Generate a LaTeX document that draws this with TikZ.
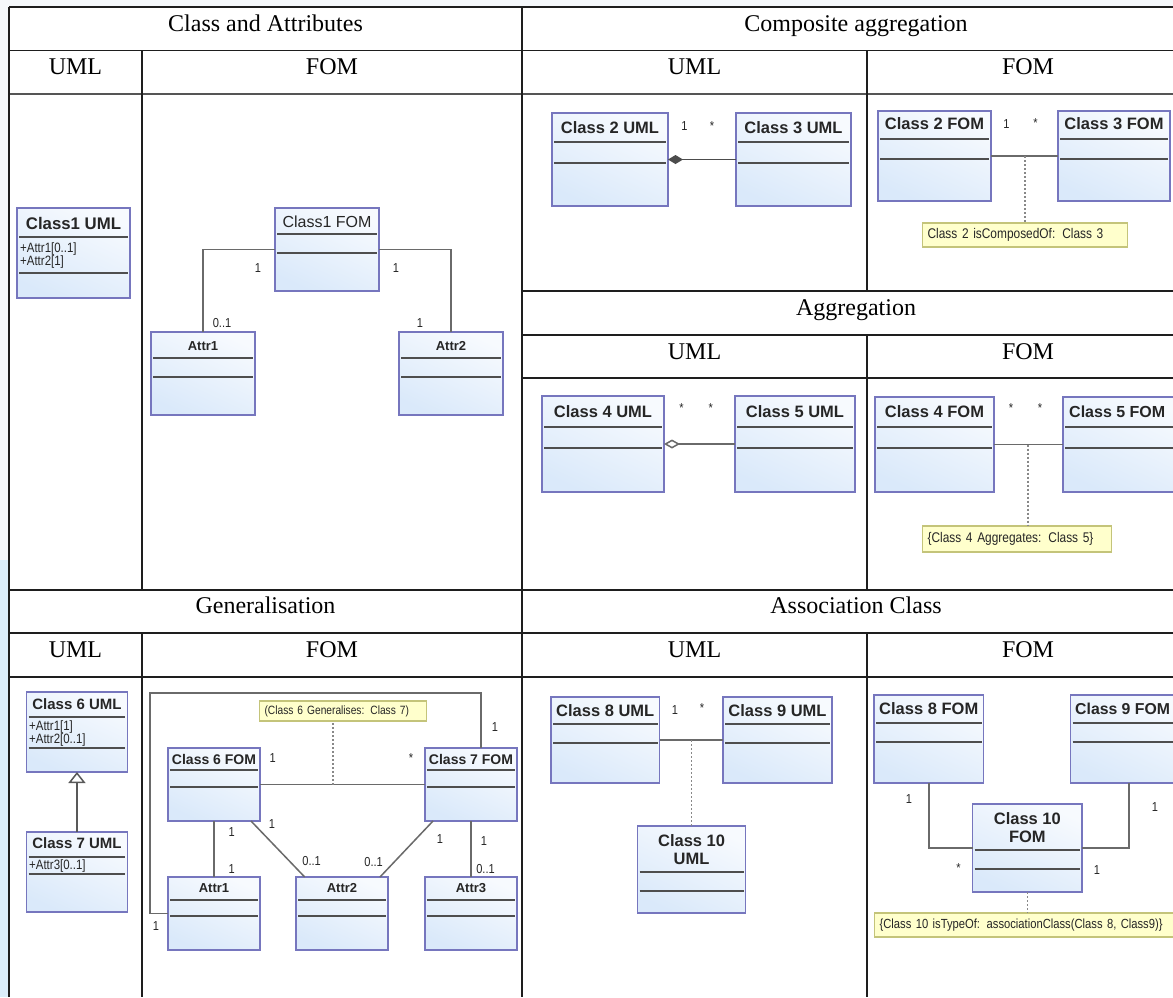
\documentclass[tikz,border=0pt]{standalone}
\usepackage{fontspec}
\setmainfont{Liberation Serif}
\setsansfont{Liberation Sans}
\newfontfamily\narrowsans[FakeStretch=0.85, WordSpace=0.8]{Liberation Sans}
\usetikzlibrary{arrows.meta}

\definecolor{tableink}{HTML}{1E1E1E}
\definecolor{headink}{HTML}{555555}
\definecolor{boxedge}{RGB}{118,118,190}
\definecolor{boxtop}{HTML}{DAE9FA}
\definecolor{boxbot}{HTML}{F7FAFE}
\definecolor{compink}{HTML}{4E4E4E}
\definecolor{wireink}{HTML}{6A6A6A}
\definecolor{notefill}{HTML}{FFFFCC}
\definecolor{noteedge}{HTML}{C4C47A}
\definecolor{stripblue}{HTML}{DCEEFB}
\definecolor{paleback}{HTML}{F5F8FB}

\tikzset{
  tablerule/.style={draw=tableink, line width=1.3pt},
  headrule/.style={draw=headink, line width=2.4pt},
  hdrtext/.style={font=\rmfamily\fontsize{24}{26}\selectfont, anchor=base, inner sep=0pt, text=black},
  % the y axis points down, so the shading's "bottom" is the top of the box
  classbox/.style={draw=boxedge, line width=1.4pt, inner sep=0pt, outer sep=0pt,
    top color=boxbot, bottom color=boxtop, shading angle=-25},
  compline/.style={draw=compink, line width=1.8pt},
  bigtitle/.style={font=\sffamily\bfseries\fontsize{16.5}{18}\selectfont, inner sep=0pt, text=black!85, align=center},
  smalltitle/.style={font=\sffamily\bfseries\fontsize{15}{17}\selectfont, inner sep=0pt, text=black!85, align=center},
  attrtitle/.style={font=\sffamily\bfseries\fontsize{13}{15}\selectfont, inner sep=0pt, text=black!85},
  attrtext/.style={font=\narrowsans\fontsize{13.5}{13.5}\selectfont, inner sep=0pt, anchor=base west, text=black!85},
  mult/.style={font=\narrowsans\fontsize{13}{13}\selectfont, inner sep=0pt, anchor=base, text=black!85},
  wire/.style={draw=wireink, line width=1.5pt},
  dotwire/.style={draw=wireink!80, line width=1.3pt, dash pattern=on 2pt off 2pt},
  notebox/.style={draw=noteedge, fill=notefill, line width=1.2pt, inner xsep=5pt, inner ysep=0pt,
    anchor=west, align=left, font=\narrowsans\fontsize{14}{14}\selectfont, text=black!85}
}

% class box: name, x1, y1, x2, y2, title y, rule 1 y, rule 2 y
\newcommand{\umlbox}[9]{%
  \node[classbox, minimum width={(#4)-(#2)}, minimum height={(#5)-(#3)}]
    (#1) at ({((#2)+(#4))/2},{((#3)+(#5))/2}) {};
  \draw[compline] ({(#2)+2},#7) -- ({(#4)-2},#7);
  \draw[compline] ({(#2)+2},#8) -- ({(#4)-2},#8);
  \coordinate (#1-tc) at ({((#2)+(#4))/2},#6);
}

\begin{document}
\begin{tikzpicture}[x=1pt,y=-1pt]
\useasboundingbox (0,0) rectangle (1173,997);
\clip (0,0) rectangle (1173,997);

% page margins around the table
\fill[paleback] (0,0) rectangle (1173,7);
\fill[paleback] (0,0) rectangle (8,560);
\fill[stripblue] (0,560) rectangle (8,997);
\fill[white] (9,7) rectangle (1173,997);

% ---------- table grid ----------
\draw[tablerule] (9,7) -- (1173,7);
\draw[tablerule] (9,50.5) -- (1173,50.5);
\draw[headrule] (9,94) -- (1173,94);
\draw[tablerule] (522,291) -- (1173,291);
\draw[tablerule] (522,335) -- (1173,335);
\draw[tablerule] (522,378) -- (1173,378);
\draw[tablerule] (9,590) -- (1173,590);
\draw[tablerule] (9,633) -- (1173,633);
\draw[tablerule] (9,677) -- (1173,677);
\draw[tablerule] (9,7) -- (9,997);
\draw[tablerule] (522,7) -- (522,997);
\draw[tablerule] (142,50.5) -- (142,590);
\draw[tablerule] (142,633) -- (142,997);
\draw[tablerule] (867,50.5) -- (867,291);
\draw[tablerule] (867,335) -- (867,590);
\draw[tablerule] (867,633) -- (867,997);

% ---------- headings ----------
\node[hdrtext] (h1) at (265.5,31) {Class and Attributes};
\node[hdrtext] (h2) at (856,31) {Composite aggregation};
\node[hdrtext] (h3) at (75.5,74) {UML};
\node[hdrtext] (h4) at (332,74) {FOM};
\node[hdrtext] (h5) at (694.5,74) {UML};
\node[hdrtext] (h6) at (1028,74) {FOM};
\node[hdrtext] (h7) at (856,315) {Aggregation};
\node[hdrtext] (h8) at (694.5,359) {UML};
\node[hdrtext] (h9) at (1028,359) {FOM};
\node[hdrtext] (h10) at (265.5,613) {Generalisation};
\node[hdrtext] (h11) at (856,613) {Association Class};
\node[hdrtext] (h12) at (75.5,657) {UML};
\node[hdrtext] (h13) at (332,657) {FOM};
\node[hdrtext] (h14) at (694.5,657) {UML};
\node[hdrtext] (h15) at (1028,657) {FOM};

% ---------- Class and Attributes ----------
\umlbox{c1uml}{17}{208}{130}{298}{223}{237}{273}{}
\node[smalltitle, font=\sffamily\bfseries\fontsize{16.8}{18}\selectfont] (c1uml-t) at (c1uml-tc) {Class1 UML};
\node[attrtext] (c1uml-a1) at (20,252.5) {+Attr1[0..1]};
\node[attrtext] (c1uml-a2) at (20,265.5) {+Attr2[1]};

\umlbox{c1fom}{275}{208}{379}{291}{222}{234}{253}{}
\node[smalltitle, font=\sffamily\fontsize{16}{18}\selectfont] (c1fom-t) at (c1fom-tc) {Class1 FOM};
\umlbox{a1fom}{151}{332}{255}{415}{346}{358}{377}{}
\node[attrtitle] (a1fom-t) at (a1fom-tc) {Attr1};
\umlbox{a2fom}{399}{332}{503}{415}{346}{358}{377}{}
\node[attrtitle] (a2fom-t) at (a2fom-tc) {Attr2};

\draw[wire] (c1fom.west) -| (a1fom.north);
\draw[wire] (c1fom.east) -| (a2fom.north);
\node[mult] (m1) at (258,272.5) {1};
\node[mult] (m2) at (222,327.5) {0..1};
\node[mult] (m3) at (396,272.5) {1};
\node[mult] (m4) at (420,327.5) {1};

% ---------- Composite aggregation ----------
\umlbox{c2uml}{552}{113}{668}{206}{128}{142}{163}{}
\node[bigtitle] (c2uml-t) at (c2uml-tc) {Class 2 UML};
\umlbox{c3uml}{736}{113}{851}{206}{128}{142}{163}{}
\node[bigtitle] (c3uml-t) at (c3uml-tc) {Class 3 UML};
\draw[wire, draw=black!70, {Diamond[length=15pt,width=9pt]}-] (c2uml.east) -- (c3uml.west);
\node[mult] (m5) at (684.5,130.5) {1};
\node[mult] (m6) at (712,130.5) {*};

\umlbox{c2fom}{878}{111}{991}{201}{124}{139}{159}{}
\node[bigtitle] (c2fom-t) at (c2fom-tc) {Class 2 FOM};
\umlbox{c3fom}{1058}{111}{1170}{201}{124}{139}{159}{}
\node[bigtitle] (c3fom-t) at (c3fom-tc) {Class 3 FOM};
\draw[wire] (c2fom.east) -- (c3fom.west);
\node[mult] (m7) at (1006.5,128.5) {1};
\node[mult] (m8) at (1035.6,127.5) {*};
\node[notebox, minimum height=24pt, text width=195pt] (n2) at (922,235) {Class 2 isComposedOf: Class 3};
\coordinate (j2) at (1025,156);
\draw[dotwire] (j2) -- (j2 |- n2.north);

% ---------- Aggregation ----------
\umlbox{c4uml}{542}{396}{664}{492}{412}{427}{448}{}
\node[bigtitle] (c4uml-t) at (c4uml-tc) {Class 4 UML};
\umlbox{c5uml}{735}{396}{855}{492}{412}{427}{448}{}
\node[bigtitle] (c5uml-t) at (c5uml-tc) {Class 5 UML};
\draw[wire, {Diamond[open,length=16pt,width=9pt,fill=white]}-] (c4uml.east) -- (c5uml.west);
\node[mult] (m9) at (681.6,412.5) {*};
\node[mult] (m10) at (710.7,412.5) {*};

\umlbox{c4fom}{875}{397}{994}{492}{412}{427}{448}{}
\node[bigtitle] (c4fom-t) at (c4fom-tc) {Class 4 FOM};
\umlbox{c5fom}{1063}{397}{1183}{492}{412}{427}{448}{}
\node[bigtitle, anchor=west, font=\sffamily\bfseries\fontsize{16}{18}\selectfont] (c5fom-t) at (1069,412) {Class 5 FOM};
\draw[wire] (c4fom.east) -- (c5fom.west);
\node[mult] (m11) at (1011,412.5) {*};
\node[mult] (m12) at (1040,412.5) {*};
\node[notebox, minimum height=26pt, text width=179pt] (n4) at (922,539) {\{Class 4 Aggregates: Class 5\}};
\coordinate (j4) at (1028,444.5);
\draw[dotwire] (j4) -- (j4 |- n4.north);

% ---------- Generalisation ----------
\umlbox{c6uml}{26.5}{692}{127.4}{772}{704}{717}{748}{}
\node[smalltitle] (c6uml-t) at (c6uml-tc) {Class 6 UML};
\node[attrtext] (c6uml-a1) at (29,730.5) {+Attr1[1]};
\node[attrtext] (c6uml-a2) at (29,743.5) {+Attr2[0..1]};
\umlbox{c7uml}{26.5}{832}{127.4}{912}{843}{857}{874}{}
\node[smalltitle] (c7uml-t) at (c7uml-tc) {Class 7 UML};
\node[attrtext] (c7uml-a1) at (29,869.5) {+Attr3[0..1]};
\draw[wire, draw=black!65, -{Triangle[open,length=11pt,width=17pt,fill=white]}] (c7uml.north) -- (c6uml.south);

\umlbox{c6fom}{168}{748}{260}{821}{759}{770}{787}{}
\node[smalltitle, font=\sffamily\bfseries\fontsize{14}{16}\selectfont] (c6fom-t) at (c6fom-tc) {Class 6 FOM};
\umlbox{c7fom}{425}{748}{517}{821}{759}{770}{787}{}
\node[smalltitle, font=\sffamily\bfseries\fontsize{14}{16}\selectfont] (c7fom-t) at (c7fom-tc) {Class 7 FOM};
\umlbox{a1gen}{168}{877}{260}{950}{888}{900}{916}{}
\node[attrtitle] (a1gen-t) at (a1gen-tc) {Attr1};
\umlbox{a2gen}{296}{877}{388}{950}{888}{900}{916}{}
\node[attrtitle] (a2gen-t) at (a2gen-tc) {Attr2};
\umlbox{a3gen}{425}{877}{517}{950}{888}{900}{916}{}
\node[attrtitle] (a3gen-t) at (a3gen-tc) {Attr3};

\draw[wire] (c6fom.east) -- (c7fom.west);
\node[notebox, minimum height=20pt, text width=157pt, font=\narrowsans\fontsize{12}{12}\selectfont] (n6) at (259,711) {(Class 6 Generalises: Class 7)};
\coordinate (j6) at (333,784.5);
\draw[dotwire] (j6) -- (j6 |- n6.south);

\coordinate (loopB) at (150,693);
\coordinate (loopD) at (481,748);
\draw[wire] (a1gen.west) -| (loopB) -| (loopD);

\draw[wire] (c6fom.south) -- (a1gen.north);
\coordinate (g6a) at (251,821);
\coordinate (g2a) at (304.7,877);
\coordinate (g7a) at (433,821);
\coordinate (g2b) at (380,877);
\draw[wire] (g6a) -- (g2a);
\draw[wire] (g7a) -- (g2b);
\draw[wire] (c7fom.south) -- (a3gen.north);

\node[mult] (m13) at (495,731.5) {1};
\node[mult] (m14) at (156,930.5) {1};
\node[mult] (m15) at (272.7,762.5) {1};
\node[mult] (m16) at (411,762.5) {*};
\node[mult] (m17) at (231.7,836.5) {1};
\node[mult] (m18) at (231.7,873.5) {1};
\node[mult] (m19) at (272,828.5) {1};
\node[mult] (m20) at (311.6,865.5) {0..1};
\node[mult] (m21) at (440,843.5) {1};
\node[mult] (m22) at (373.6,866.5) {0..1};
\node[mult] (m23) at (484,845.5) {1};
\node[mult] (m24) at (485.5,873.5) {0..1};

% ---------- Association Class ----------
\umlbox{c8uml}{551}{697}{659.5}{783}{711}{724}{743}{}
\node[bigtitle] (c8uml-t) at (c8uml-tc) {Class 8 UML};
\umlbox{c9uml}{723}{697}{832}{783}{711}{724}{743}{}
\node[bigtitle] (c9uml-t) at (c9uml-tc) {Class 9 UML};
\draw[wire] (c8uml.east) -- (c9uml.west);
\node[mult] (m25) at (675,714.5) {1};
\node[mult] (m26) at (702,712.5) {*};
\umlbox{c10uml}{637.5}{826}{745.7}{913}{850}{872}{891}{}
\node[bigtitle] (c10uml-t) at (c10uml-tc) {Class 10\\UML};
\draw[dotwire] (c10uml.north |- c8uml.east) -- (c10uml.north);

\umlbox{c8fom}{874}{695}{983.5}{783}{709}{723}{742}{}
\node[bigtitle] (c8fom-t) at (c8fom-tc) {Class 8 FOM};
\umlbox{c9fom}{1070.6}{695}{1187}{783}{709}{723}{742}{}
\node[bigtitle, anchor=west, font=\sffamily\bfseries\fontsize{15.8}{18}\selectfont] (c9fom-t) at (1075,709) {Class 9 FOM};
\umlbox{c10fom}{972.7}{804}{1082}{892}{827.5}{850}{869}{}
\node[bigtitle] (c10fom-t) at (c10fom-tc) {Class 10\\FOM};
\draw[wire] (c8fom.south) |- (c10fom.west);
\draw[wire] (c9fom.south) |- (c10fom.east);
\node[mult] (m27) at (909,803.5) {1};
\node[mult] (m28) at (958.6,872.5) {*};
\node[mult] (m29) at (1155,811.5) {1};
\node[mult] (m30) at (1097,874.5) {1};
\node[notebox, minimum height=24pt, text width=400pt, font=\narrowsans\fontsize{13.2}{13.2}\selectfont] (n10) at (874,925) {\{Class 10 isTypeOf: associationClass(Class 8, Class9)\}};
\draw[dotwire] (c10fom.south) -- (c10fom.south |- n10.north);

\end{tikzpicture}
\end{document}
